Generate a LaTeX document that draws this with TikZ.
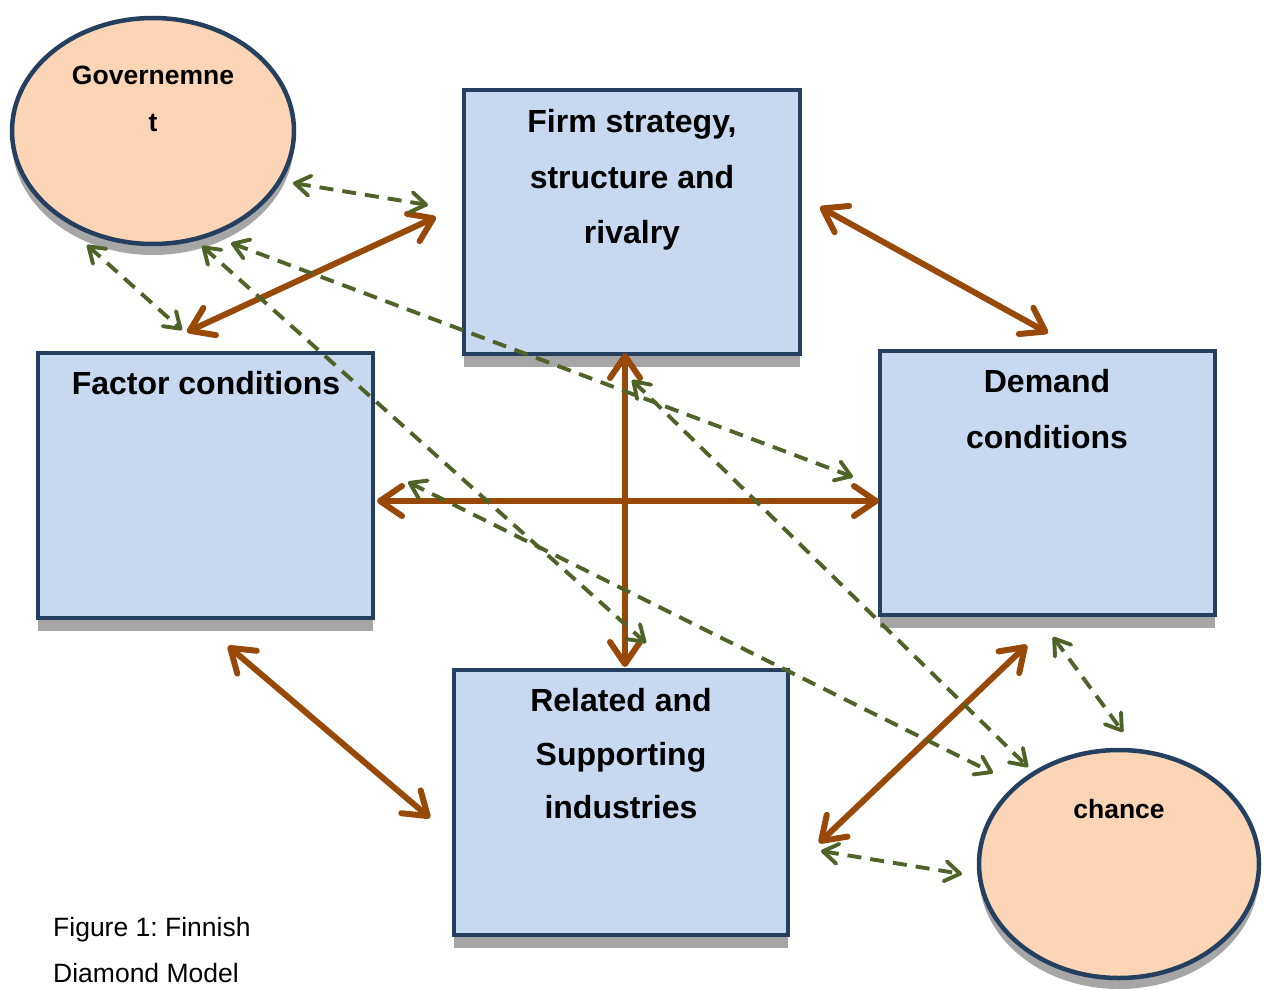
\documentclass[tikz,border=0pt]{standalone}
\usepackage{fontspec}
\setmainfont{Liberation Sans}
\frenchspacing
\usetikzlibrary{arrows.meta,shadows,shapes.geometric}
\definecolor{boxfill}{HTML}{C6D9F1}
\definecolor{ovalfill}{HTML}{FBD5B5}
\definecolor{navy}{HTML}{243F60}
\definecolor{brownarr}{HTML}{984807}
\definecolor{greenarr}{HTML}{4F6228}
\definecolor{shadowgray}{HTML}{A6A6A6}
\tikzset{
  box/.style={rectangle, draw=navy, line width=4.5pt, fill=boxfill, inner sep=0pt,
    drop shadow={shadow xshift=0pt, shadow yshift=-13pt, fill=shadowgray, opacity=1}},
  oval/.style={ellipse, draw=navy, line width=4.5pt, fill=ovalfill, inner sep=0pt,
    drop shadow={shadow xshift=0pt, shadow yshift=-11pt, fill=shadowgray, opacity=1}},
  boxtext/.style={align=center, inner sep=0pt, font=\fontsize{32}{55.5}\selectfont\bfseries},
  ovaltext/.style={align=center, inner sep=0pt, font=\fontsize{26.5}{47}\selectfont\bfseries},
  brownarrow/.style={draw=brownarr, line width=6pt, line cap=round,
    >={Straight Barb[length=22pt,width=30pt,round]}, <->},
  greenarrow/.style={draw=greenarr, line width=3.9pt, dash pattern=on 14pt off 9pt,
    >={Straight Barb[length=15pt,width=20pt,round]}, <->},
}
\begin{document}
\begin{tikzpicture}[x=1pt,y=-1pt]
\useasboundingbox (0,0) rectangle (1264,990);
\fill[white] (0,0) rectangle (1264,990);

% shapes
\node[oval, minimum width=282pt, minimum height=226pt] (gov) at (153,131) {};
\node[oval, minimum width=280pt, minimum height=228pt] (chance) at (1119,864) {};
\node[box, minimum width=336pt, minimum height=264pt] (firm) at (632,222) {};
\node[box, minimum width=335pt, minimum height=265pt] (factor) at (205.5,485.5) {};
\node[box, minimum width=335pt, minimum height=264pt] (demand) at (1047.5,483) {};
\node[box, minimum width=334pt, minimum height=265pt] (related) at (621,802.5) {};

% texts
\node[ovaltext] (govtext) at (153,99) {Governemne\\t};
\node[ovaltext] (chancetext) at (1119,809) {chance};
\node[boxtext] (firmtext) at (632,180) {Firm strategy,\\structure and\\rivalry};
\node[boxtext] (factortext) at (206,383) {Factor conditions};
\node[boxtext] (demandtext) at (1047,409) {Demand\\conditions};
\node[boxtext, font=\fontsize{32}{53.5}\selectfont\bfseries] (relatedtext) at (621,754) {Related and\\Supporting\\industries};
\node[align=left, anchor=west, inner sep=0pt, font=\fontsize{26.5}{46}\selectfont] (caption) at (53,950) {Figure 1: Finnish\\Diamond Model};

% connector end points
\coordinate (b1s) at (187,332); \coordinate (b1e) at (436,217);
\coordinate (b2s) at (820,207); \coordinate (b2e) at (1048,333);
\coordinate (b3s) at (625,353); \coordinate (b3e) at (625,667);
\coordinate (b4s) at (377,501); \coordinate (b4e) at (879,501);
\coordinate (b5s) at (228,646); \coordinate (b5e) at (430,818);
\coordinate (b6s) at (819,843); \coordinate (b6e) at (1027,645);

\coordinate (g1s) at (293,183); \coordinate (g1e) at (428,205);
\coordinate (g2s) at (87,245);  \coordinate (g2e) at (182,330);
\coordinate (g3s) at (202,246); \coordinate (g3e) at (646,643);
\coordinate (g4s) at (231,243); \coordinate (g4e) at (853,477);
\coordinate (g5s) at (408,482); \coordinate (g5e) at (993,773);
\coordinate (g6s) at (632,380); \coordinate (g6e) at (1028,767);
\coordinate (g7s) at (1053,637); \coordinate (g7e) at (1123,732);
\coordinate (g8s) at (821,851); \coordinate (g8e) at (962,874);

% brown arrows
\draw[brownarrow] (b1s) -- (b1e);
\draw[brownarrow] (b2s) -- (b2e);
\draw[brownarrow] (b3s) -- (b3e);
\draw[brownarrow] (b4s) -- (b4e);
\draw[brownarrow] (b5s) -- (b5e);
\draw[brownarrow] (b6s) -- (b6e);

% green dashed arrows
\draw[greenarrow] (g1s) -- (g1e);
\draw[greenarrow] (g2s) -- (g2e);
\draw[greenarrow] (g3s) -- (g3e);
\draw[greenarrow] (g4s) -- (g4e);
\draw[greenarrow] (g5s) -- (g5e);
\draw[greenarrow] (g6s) -- (g6e);
\draw[greenarrow] (g7s) -- (g7e);
\draw[greenarrow] (g8s) -- (g8e);
\end{tikzpicture}
\end{document}
